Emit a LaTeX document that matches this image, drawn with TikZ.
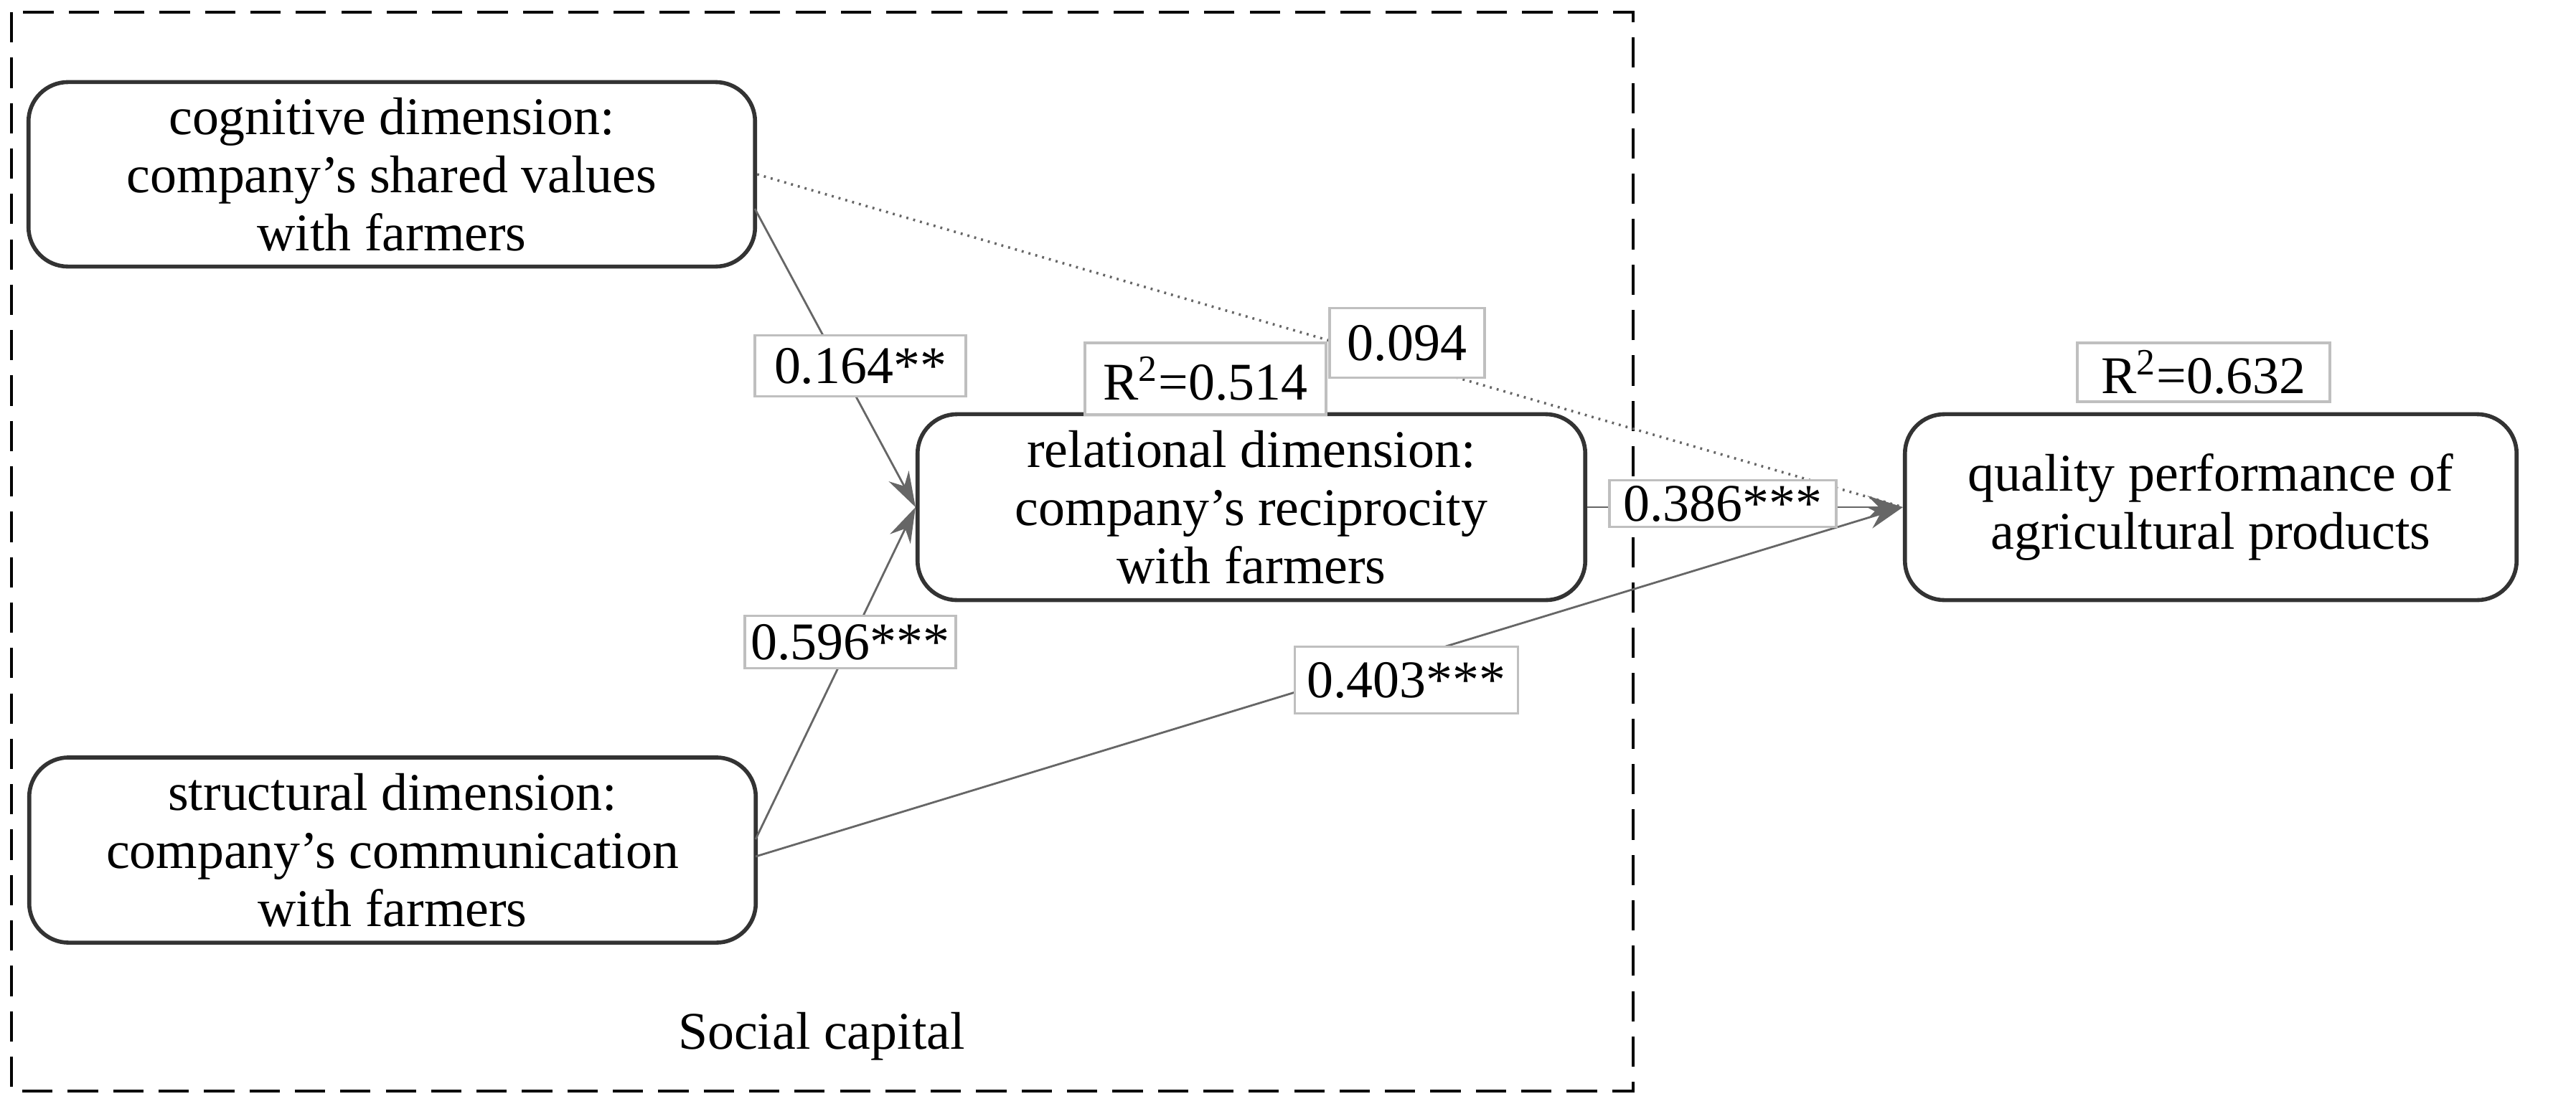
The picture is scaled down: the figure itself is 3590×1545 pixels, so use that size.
\documentclass[tikz,border=0pt]{standalone}
\usepackage{fontspec}
\setmainfont{Liberation Serif}
\usetikzlibrary{arrows.meta}
\begin{document}
\begin{tikzpicture}[x=0.01cm,y=-0.01cm,
  box/.style={draw=black!80,line width=1.6pt,rounded corners=0.55cm,align=center,font=\fontsize{21}{23}\selectfont,inner sep=0pt},
  lab/.style={draw=black!25,line width=1pt,fill=white,font=\fontsize{21}{23}\selectfont,inner sep=0pt},
  ln/.style={draw=black!60,line width=0.8pt},
  tip/.style={-{Stealth[length=14pt,width=9pt]}}]
\useasboundingbox (0,0) rectangle (3590,1545);
\draw[dashed,line width=1.2pt,dash pattern=on 12pt off 6pt] (16,17) rectangle (2276,1521);
\node[box,minimum width=10.12cm,minimum height=2.57cm] (cog) at (546,243) {cognitive dimension:\\company's shared values\\with farmers};
\node[box,minimum width=10.12cm,minimum height=2.58cm] (str) at (547,1185) {structural dimension:\\company's communication\\with farmers};
\node[box,minimum width=9.3cm,minimum height=2.59cm] (rel) at (1744,707) {relational dimension:\\company's reciprocity\\with farmers};
\node[box,minimum width=8.52cm,minimum height=2.59cm] (qual) at (3081,707) {quality performance of\\agricultural products};
\node[font=\fontsize{21}{23}\selectfont] (sc) at (1145,1445) {Social capital};
\coordinate (c1) at (1052,291);
\coordinate (s1) at (1053,1170);
\coordinate (s2) at (1053,1194);
\draw[ln,dotted,line width=1pt] (cog.east) -- (qual.west);
\draw[ln,tip] (c1) -- (rel.west);
\draw[ln,tip] (s1) -- (rel.west);
\draw[ln,tip] (rel.east) -- (qual.west);
\draw[ln,tip] (s2) -- (qual.west);
\node[lab,minimum width=2.94cm,minimum height=0.85cm] (l1) at (1199,510) {0.164**};
\node[lab,minimum width=2.94cm,minimum height=0.73cm] (l2) at (1185,895) {0.596***};
\node[lab,minimum width=3.36cm,minimum height=1.0cm] (r1) at (1680,528) {R\textsuperscript{2}=0.514};
\node[lab,minimum width=2.16cm,minimum height=0.97cm] (l3) at (1961,478) {0.094};
\node[lab,minimum width=3.16cm,minimum height=0.65cm] (l4) at (2401,702) {0.386***};
\node[lab,minimum width=3.11cm,minimum height=0.93cm] (l5) at (1960,948) {0.403***};
\node[lab,minimum width=3.52cm,minimum height=0.82cm] (r2) at (3071,519) {R\textsuperscript{2}=0.632};
\end{tikzpicture}
\end{document}
